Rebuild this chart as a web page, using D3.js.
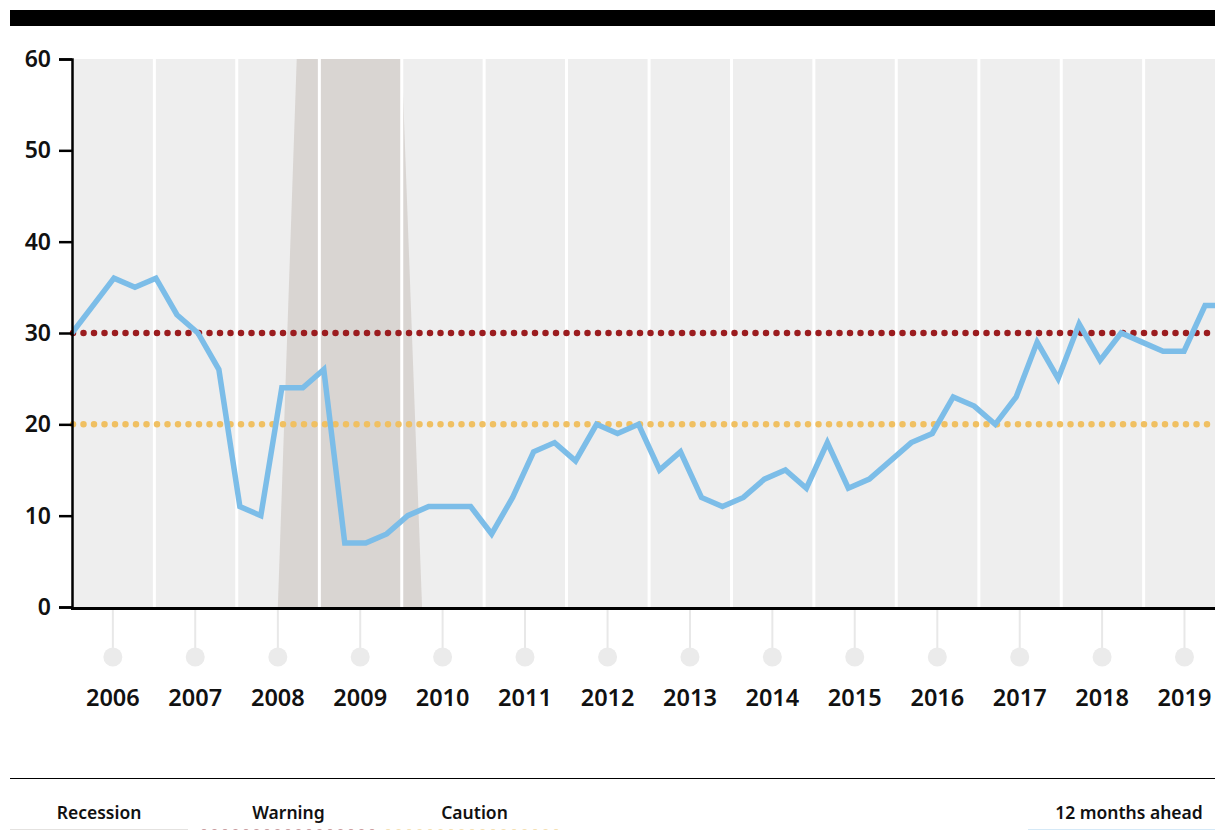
<!DOCTYPE html>
<html>
<head>
<meta charset="utf-8">
<script src="https://cdn.jsdelivr.net/npm/d3@7"></script>
<style>
  body { margin: 0; background: #fff; }
  svg { display: block; font-family: "Noto Sans", sans-serif; }
</style>
</head>
<body>
<svg id="chart" width="1215" height="830"></svg>
<script>
// quarterly probability of recession, 12 months ahead (2006Q1 - 2019Q4)
var probValues = [30, 33, 36, 35, 36, 32, 30, 26, 11, 10, 24, 24, 26, 7, 7, 8,
                  10, 11, 11, 11, 8, 12, 17, 18, 16, 20, 19, 20, 15, 17, 12, 11,
                  12, 14, 15, 13, 18, 13, 14, 16, 18, 19, 23, 22, 20, 23, 29, 25,
                  31, 27, 30, 29, 28, 28, 33, 33]
var years = [2006, 2007, 2008, 2009, 2010, 2011, 2012, 2013, 2014, 2015, 2016, 2017, 2018, 2019]
var yTicks = [0, 10, 20, 30, 40, 50, 60]
var thresholds = [{name: "Warning", value: 30}, {name: "Caution", value: 20}]
var recessionDates = ["2008-07-01", "2008-10-01", "2009-01-01", "2009-04-01", "2009-07-01", "2009-10-01", "2010-01-01", "2010-04-01"]
var recessionValues = [0, 66, 66, 66, 66, 66, 60, 0]
var legendLabels = ["Recession", "Warning", "Caution", "12 months ahead"]

var quarters = probValues.map(function(d, i){
  return (2006 + Math.floor(i / 4)) + "Q" + (i % 4 + 1)
})

var svg = d3.select("#chart")
var pL = 72, pR = 1226, pT = 59, pB = 607

var x = d3.scaleTime()
  .domain([new Date(2006, 0, 1), new Date(2020, 0, 1)])
  .range([pL, pR])
var xq = d3.scalePoint().domain(quarters).range([pL, pR])
var y = d3.scaleLinear().domain([0, 60]).range([pB, pT])

svg.append("defs").append("clipPath").attr("id", "plot")
  .append("rect").attr("x", pL).attr("y", pT)
  .attr("width", pR - pL).attr("height", pB - pT)

// header bar
svg.append("rect").attr("x", 10).attr("y", 10).attr("width", 1205).attr("height", 16).attr("fill", "#000")

// plot background
svg.append("rect").attr("x", pL).attr("y", pT)
  .attr("width", pR - pL).attr("height", pB - pT).attr("fill", "#eeeeee")

// recession shading
var parse = d3.timeParse("%Y-%m-%d")
var recession = recessionDates.map(function(d, i){ return {date: parse(d), value: recessionValues[i]} })
svg.append("path").datum(recession)
  .attr("clip-path", "url(#plot)")
  .attr("fill", "#d9d5d2")
  .attr("d", d3.area().x(function(d){ return x(d.date) }).y0(pB).y1(function(d){ return y(d.value) }))

// year separators
svg.append("g").selectAll("line").data(years.slice(1)).enter().append("line")
  .attr("x1", function(d){ return x(new Date(d, 0, 1)) })
  .attr("x2", function(d){ return x(new Date(d, 0, 1)) })
  .attr("y1", pT).attr("y2", pB)
  .attr("stroke", "#fff").attr("stroke-width", 3)

// threshold lines
var threshColors = {Warning: "#9b1c1f", Caution: "#f0c062"}
svg.append("g").selectAll("line").data(thresholds).enter().append("line")
  .attr("x1", pL + 1).attr("x2", 1215)
  .attr("y1", function(d){ return y(d.value) }).attr("y2", function(d){ return y(d.value) })
  .attr("stroke", function(d){ return threshColors[d.name] })
  .attr("stroke-width", 6.5).attr("stroke-linecap", "round")
  .attr("stroke-dasharray", "0 10.5")

// main line
svg.append("path").datum(probValues)
  .attr("clip-path", "url(#plot)")
  .attr("fill", "none").attr("stroke", "#7cbde8").attr("stroke-width", 5.5)
  .attr("d", d3.line().x(function(d, i){ return xq(quarters[i]) }).y(function(d){ return y(d) }))

// y axis
var yAxis = svg.append("g").attr("transform", "translate(" + pL + ",0)")
  .call(d3.axisLeft(y).tickValues(yTicks).tickSize(13).tickPadding(8))
yAxis.selectAll("path, line").attr("stroke", "#000").attr("stroke-width", 2.5)
yAxis.selectAll("text").attr("font-size", 23).attr("font-weight", 600).attr("fill", "#111")
  .attr("font-family", "Noto Sans")

// x axis line
svg.append("line").attr("x1", pL - 1).attr("x2", 1215).attr("y1", pB + 1.5).attr("y2", pB + 1.5)
  .attr("stroke", "#000").attr("stroke-width", 3)

// year ticks with dots
var yr = svg.append("g").selectAll("g").data(years).enter().append("g")
  .attr("transform", function(d){ return "translate(" + x(new Date(d, 6, 1)) + ",0)" })
yr.append("line").attr("y1", pB + 3).attr("y2", 648).attr("stroke", "#e8e8e8").attr("stroke-width", 2)
yr.append("circle").attr("cy", 657).attr("r", 9.5).attr("fill", "#ebebeb")
yr.append("text").attr("y", 706).attr("text-anchor", "middle")
  .attr("font-size", 23.5).attr("font-weight", 600).attr("fill", "#111")
  .text(function(d){ return d })

// legend
svg.append("line").attr("x1", 10).attr("x2", 1215).attr("y1", 778.5).attr("y2", 778.5)
  .attr("stroke", "#000").attr("stroke-width", 1.2)

var legendPos = [{x0: 10, x1: 188}, {x0: 204, x1: 373}, {x0: 388, x1: 561}, {x0: 1028, x1: 1230}]
var legendStyle = [
  {stroke: "#e4e2e0", dash: null},
  {stroke: "#c99a9c", dash: "0 10.5"},
  {stroke: "#f5dfb0", dash: "0 10.5"},
  {stroke: "#d5e9f7", dash: null}
]
var lg = svg.append("g").selectAll("g").data(legendLabels).enter().append("g")
lg.append("line")
  .attr("x1", function(d, i){ return legendPos[i].x0 }).attr("x2", function(d, i){ return legendPos[i].x1 })
  .attr("y1", 832).attr("y2", 832)
  .attr("stroke", function(d, i){ return legendStyle[i].stroke })
  .attr("stroke-width", 6)
  .attr("stroke-linecap", function(d, i){ return legendStyle[i].dash ? "round" : "butt" })
  .attr("stroke-dasharray", function(d, i){ return legendStyle[i].dash })
lg.append("text")
  .attr("x", function(d, i){ return i == 3 ? 1129 : (legendPos[i].x0 + legendPos[i].x1) / 2 })
  .attr("y", 819).attr("text-anchor", "middle")
  .attr("font-size", 17.5).attr("font-weight", 600).attr("fill", "#111")
  .text(function(d){ return d })
</script>
</body>
</html>
